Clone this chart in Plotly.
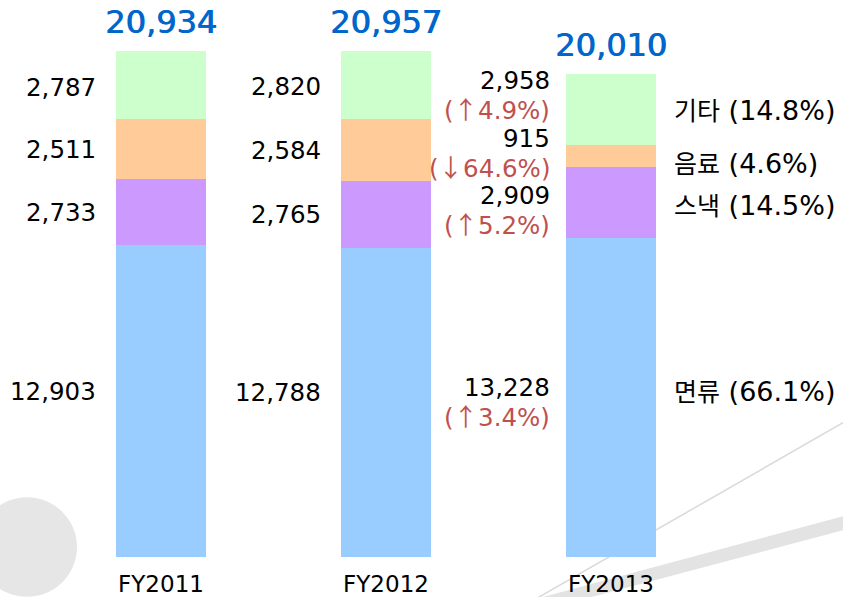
import plotly.graph_objects as go

# ---- data ----
categories = ["FY2011", "FY2012", "FY2013"]
series_names = ["면류", "스낵", "음료", "기타"]
noodle = [12903, 12788, 13228]
snack = [2733, 2765, 2909]
drink = [2511, 2584, 915]
other = [2787, 2820, 2958]
fy2013_arrow = ["↑", "↑", "↓", "↑"]
fy2013_change = ["3.4%", "5.2%", "64.6%", "4.9%"]
fy2013_share = ["66.1%", "14.5%", "4.6%", "14.8%"]

# ---- styles ----
colors = ["#99CCFF", "#CC99FF", "#FFCC99", "#CCFFCC"]
FONT = "DejaVu Sans, Noto Sans CJK KR, sans-serif"
CJK = "Noto Sans CJK KR"
BAR_W = 0.396
RED = "#C0504D"
BLUE_TXT = "#0066CC"
LBL = 24.5

series = [noodle, snack, drink, other]
xs = list(range(len(categories)))

fig = go.Figure()
for name, vals, col in zip(series_names, series, colors):
    fig.add_trace(go.Bar(x=xs, y=vals, name=name, marker=dict(color=col, line=dict(width=0)),
                         width=BAR_W, hoverinfo="skip"))

annotations = []
# totals
totals = [sum(s[i] for s in series) for i in xs]
for i, t in enumerate(totals):
    annotations.append(dict(x=i, y=t, xref="x", yref="y", text=f"{t:,}", showarrow=False,
                            yanchor="middle", yshift=29, borderpad=0, borderwidth=0,
                            font=dict(family=FONT, size=32, color=BLUE_TXT,
                                      shadow=f"0.8px 0 0 {BLUE_TXT}")))

# segment labels
single_shift = [10, 0, 0, -2]         # per series, px (FY2011/FY2012)
block_shift = [-4, -7, 4, 15]         # per series, px (FY2013 two-line)
right_shift = [6, -3, -7, -1]         # per series, px (category labels)
for i in xs:
    base = 0
    for k, vals in enumerate(series):
        v = vals[i]
        mid = base + v / 2
        base += v
        if i < 2:
            annotations.append(dict(x=i - BAR_W / 2, y=mid, xref="x", yref="y", text=f"{v:,}",
                                    showarrow=False, xanchor="right", yanchor="middle",
                                    xshift=-20, yshift=single_shift[k], borderpad=0, borderwidth=0,
                                    font=dict(family=FONT, size=LBL, color="#000000")))
        else:
            annotations.append(dict(x=i - BAR_W / 2, y=mid, xref="x", yref="y", text=f"{v:,}",
                                    showarrow=False, xanchor="right", yanchor="bottom",
                                    xshift=-16, yshift=block_shift[k] - 1,
                                    borderpad=0, borderwidth=0,
                                    font=dict(family=FONT, size=LBL, color="#000000")))
            chg = f"(<span style='font-family:{CJK}'>{fy2013_arrow[k]}</span>{fy2013_change[k]})"
            annotations.append(dict(x=i - BAR_W / 2, y=mid, xref="x", yref="y", text=chg,
                                    showarrow=False, xanchor="right", yanchor="top",
                                    xshift=-16, yshift=block_shift[k] + 3,
                                    borderpad=0, borderwidth=0,
                                    font=dict(family=FONT, size=LBL, color=RED)))
            lab = (f"<span style='font-size:25px'>{series_names[k]}</span>"
                   f" ({fy2013_share[k]})")
            annotations.append(dict(x=i + BAR_W / 2, y=mid, xref="x", yref="y",
                                    text=lab,
                                    showarrow=False, xanchor="left", yanchor="middle",
                                    xshift=18, yshift=right_shift[k], borderpad=0, borderwidth=0,
                                    font=dict(family=FONT, size=27, color="#000000")))

W, H = 843, 597
PB = 560  # plot bottom in px


def px(x):
    return x / W


def py(y):
    return (PB - y) / PB


shapes = [
    dict(type="circle", xref="paper", yref="paper", layer="below",
         x0=px(-23), x1=px(77), y0=py(600), y1=py(500),
         fillcolor="#E6E6E6", line=dict(width=0)),
    dict(type="line", xref="paper", yref="paper", layer="below",
         x0=px(843), y0=py(425), x1=px(536), y1=py(602),
         line=dict(color="#D9D9D9", width=1.5)),
    dict(type="path", xref="paper", yref="paper", layer="below",
         path=f"M {px(843)} {py(519)} L {px(843)} {py(533)} L {px(540)} {py(614)} L {px(540)} {py(601)} Z",
         fillcolor="#E3E3E3", line=dict(width=0)),
]

fig.update_layout(
    barmode="stack",
    width=W, height=H,
    margin=dict(l=0, r=0, t=0, b=H - PB, pad=0),
    paper_bgcolor="white", plot_bgcolor="rgba(0,0,0,0)",
    showlegend=False,
    annotations=annotations,
    shapes=shapes,
    xaxis=dict(range=[-161 / 225, (843 - 161) / 225], tickvals=xs, ticktext=categories,
               showgrid=False, zeroline=False, showline=False,
               ticks="outside", ticklen=6, tickcolor="rgba(0,0,0,0)",
               tickfont=dict(family=FONT, size=23, color="#000000")),
    yaxis=dict(range=[0, 23064], visible=False, showgrid=False, zeroline=False),
)

fig.write_html("out.html", config={"displayModeBar": False},
               post_script="document.body.style.margin='0';document.body.style.overflow='hidden';")
